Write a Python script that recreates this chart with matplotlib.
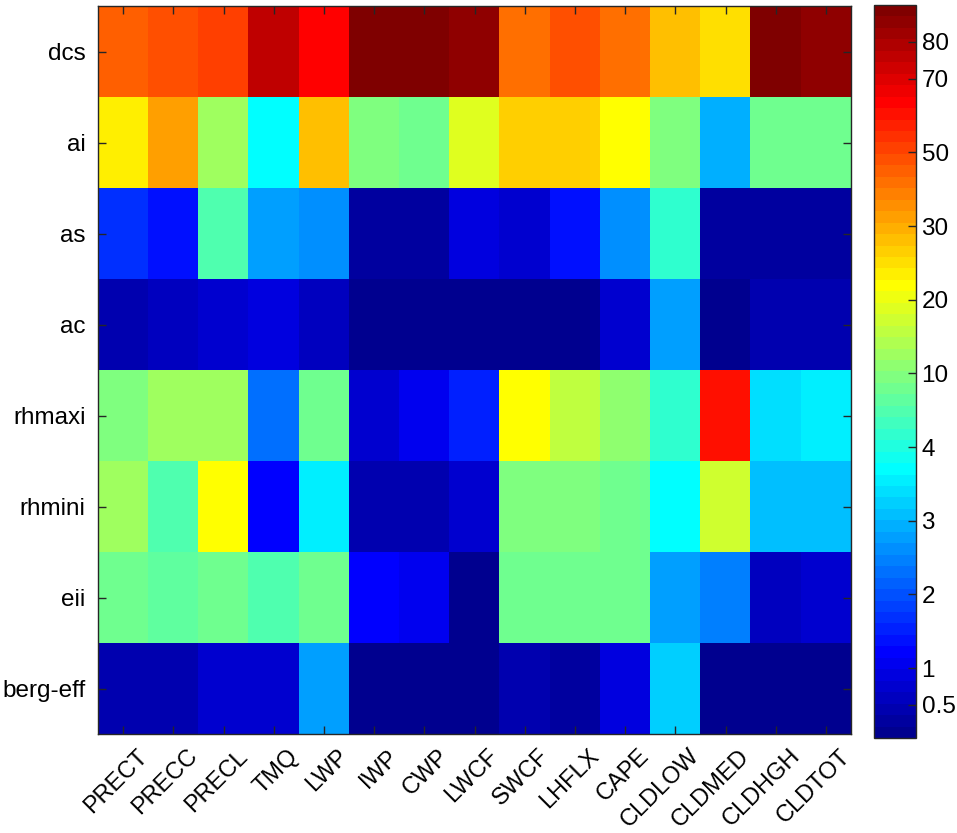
import numpy as np
import matplotlib
matplotlib.use("Agg")
import matplotlib.pyplot as plt
from matplotlib.colors import FuncNorm, ListedColormap
from matplotlib.transforms import ScaledTranslation

plt.rcParams['font.family'] = ['Liberation Sans', 'DejaVu Sans']

variables = ["PRECT", "PRECC", "PRECL", "TMQ", "LWP", "IWP", "CWP", "LWCF",
             "SWCF", "LHFLX", "CAPE", "CLDLOW", "CLDMED", "CLDHGH", "CLDTOT"]
params = ["dcs", "ai", "as", "ac", "rhmaxi", "rhmini", "eii", "berg-eff"]

dcs     = [46, 49, 52.5, 77.5, 65, 90, 90, 84, 43, 49, 43, 28.75, 25.6, 87, 84]
ai      = [24, 33.7, 13.2, 3.75, 28.75, 10, 9.1, 19.4, 27.2, 27.2, 22.5, 10, 2.97, 9.1, 9.1]
as_     = [1.72, 1.41, 7.2, 2.82, 2.66, 0.32, 0.32, 0.94, 0.79, 1.41, 2.66, 5.3, 0.32, 0.32, 0.32]
ac      = [0.47, 0.625, 0.79, 0.85, 0.625, 0.1, 0.15, 0.1, 0.2, 0.1, 0.79, 2.82, 0.16, 0.47, 0.47]
rhmaxi  = [10, 13.2, 13.2, 2.35, 9.1, 0.79, 1.1, 1.56, 22.5, 16.25, 11.6, 5.3, 61.8, 3.44, 3.6]
rhmini  = [13.2, 7.2, 22.5, 1.15, 3.6, 0.45, 0.45, 0.7, 10, 10, 9.1, 3.75, 17.9, 3.125, 3.125]
eii     = [9.1, 8.2, 9.1, 7.2, 9.1, 1.2, 1.1, 0.15, 9.1, 9.1, 9.1, 2.82, 2.5, 0.625, 0.79]
bergeff = [0.47, 0.5, 0.79, 0.79, 2.82, 0.1, 0.1, 0.1, 0.5, 0.35, 0.94, 3.29, 0.05, 0.16, 0.16]

cbar_ticks = [0.5, 1, 2, 3, 4, 10, 20, 30, 50, 70, 80]

data = np.array([dcs, ai, as_, ac, rhmaxi, rhmini, eii, bergeff])

# nonlinear colour scale: each tick value placed at an even index position
scale_vals = np.array([0.0, 0.5, 1, 2, 3, 4, 10, 20, 30, 50, 70, 80, 90])
scale_pos = np.array([0.0, 0.5, 1, 2, 3, 4, 5, 6, 7, 8, 9, 9.5, 10])

def fwd(v):
    return np.interp(v, scale_vals, scale_pos)

def inv(p):
    return np.interp(p, scale_pos, scale_vals)

def matlab_jet(m=64):
    n = int(np.ceil(m / 4))
    u = np.concatenate([np.arange(1, n + 1) / n, np.ones(n - 1), np.arange(n, 0, -1) / n])
    g = int(np.ceil(n / 2)) - (1 if m % 4 == 1 else 0) + np.arange(1, len(u) + 1)
    r = g + n
    b = g - n
    J = np.zeros((m, 3))
    for idx, ch in ((r, 0), (g, 1), (b, 2)):
        ok = (idx >= 1) & (idx <= m)
        J[idx[ok] - 1, ch] = u[ok]
    return ListedColormap(J)

norm = FuncNorm((fwd, inv), vmin=0.05, vmax=90)
cmap = matlab_jet(64)

fig = plt.figure(figsize=(9.57, 8.33), dpi=100)
ax = fig.add_axes([98/957, 1-734/833, (851-98)/957, (734-6)/833])
cax = fig.add_axes([874/957, 1-738/833, (916-874)/957, (738-5)/833])

im = ax.imshow(data, cmap=cmap, norm=norm, aspect='auto', interpolation='nearest')

fs = 17.5
tick_col = '#262626'
ax.set_xticks(np.arange(len(variables)))
ax.set_yticks(np.arange(len(params)))
ax.set_yticklabels(params, fontsize=fs)
ax.set_xticklabels(variables, fontsize=17, rotation=45, ha='right', va='top',
                   rotation_mode='anchor')
ax.tick_params(axis='both', direction='in', length=6, width=1, color=tick_col,
               top=True, right=True, labeltop=False, labelright=False)
ax.tick_params(axis='y', pad=9)
ax.tick_params(axis='x', pad=8)
for lab in ax.get_xticklabels():
    lab.set_transform(lab.get_transform() + ScaledTranslation(0.13, 0, fig.dpi_scale_trans))
for s in ax.spines.values():
    s.set_color(tick_col)
    s.set_linewidth(1)

cb = fig.colorbar(im, cax=cax)
cb.set_ticks(cbar_ticks)
cb.set_ticklabels([f"{t:g}" for t in cbar_ticks])
cb.ax.tick_params(direction='in', length=6, width=1, color=tick_col, labelsize=fs, pad=4)
cb.ax.minorticks_off()
cb.outline.set_edgecolor(tick_col)
cb.outline.set_linewidth(1)

fig.savefig("out.png", dpi=100)
